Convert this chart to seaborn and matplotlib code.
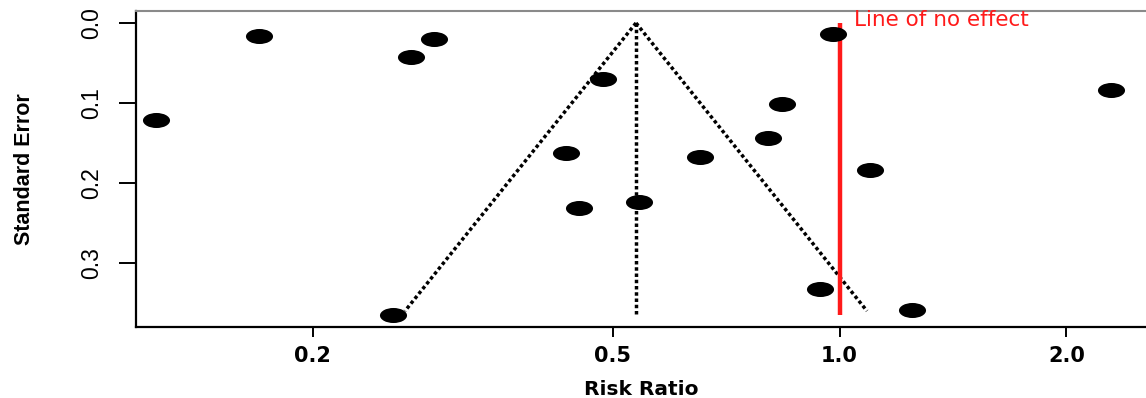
import numpy as np
import pandas as pd
import matplotlib
matplotlib.use("Agg")
import matplotlib.pyplot as plt
import seaborn as sns
from matplotlib.path import Path
from matplotlib.transforms import Affine2D
from matplotlib.ticker import FixedLocator, FixedFormatter, NullLocator

# Study-level estimates: risk ratio and standard error of log(RR)
risk_ratio = [0.124, 0.170, 0.270, 0.290, 0.485, 0.434, 0.451, 0.542, 0.653,
              0.840, 0.804, 0.979, 1.096, 2.288, 0.943, 1.247, 0.256]
std_error = [0.121, 0.016, 0.043, 0.020, 0.070, 0.163, 0.231, 0.224, 0.168,
             0.101, 0.144, 0.014, 0.184, 0.084, 0.333, 0.359, 0.365]

# Pooled estimate and funnel extent
pooled_rr = 0.537
funnel_se_max = 0.36
no_effect_rr = 1.0
no_effect_se_span = [0.0, 0.365]

x_ticks = [0.2, 0.5, 1.0, 2.0]
x_tick_labels = ["0.2", "0.5", "1.0", "2.0"]
y_ticks = [0.0, 0.1, 0.2, 0.3]
y_tick_labels = ["0.0", "0.1", "0.2", "0.3"]

df = pd.DataFrame({"rr": risk_ratio, "se": std_error})

sns.set_theme(style="white", rc={"text.color": "black",
                                 "axes.labelcolor": "black",
                                 "xtick.color": "black",
                                 "ytick.color": "black"})
plt.rcParams["font.family"] = ["Liberation Sans", "DejaVu Sans"]

fig = plt.figure(figsize=(11.46, 3.98), dpi=100)
ax = fig.add_axes([136 / 1146, 1 - 327 / 398, 1 - 136 / 1146, (327 - 11) / 398])

# 95% pseudo-confidence funnel around the pooled estimate
se_line = np.array([0.0, funnel_se_max])
z = 1.96
lower = np.exp(np.log(pooled_rr) - z * se_line)
upper = np.exp(np.log(pooled_rr) + z * se_line)
dot = (0, (1, 0.8))
ax.plot(lower, se_line, color="black", lw=2.5, ls=dot, zorder=2)
ax.plot(upper, se_line, color="black", lw=2.5, ls=dot, zorder=2)
ax.plot([pooled_rr, pooled_rr], [0.0, no_effect_se_span[1]], color="black",
        lw=2.5, ls=dot, zorder=2)

# Line of no effect
ax.plot([no_effect_rr, no_effect_rr], no_effect_se_span, color="#ff1a1a",
        lw=3.2, zorder=2, solid_capstyle="butt")
ax.text(1.045, -0.004, "Line of no effect", color="#ff1a1a", fontsize=15.5,
        ha="left", va="center", family=["DejaVu Sans"])

# Study points drawn as wide ellipses
ellipse = Path.unit_circle().transformed(Affine2D().scale(1.0, 15 / 27))
sns.scatterplot(data=df, x="rr", y="se", ax=ax, marker=ellipse, s=380,
                color="black", edgecolor="black", linewidth=0, zorder=3,
                legend=False)

ax.set_xscale("log")
ax.set_xlim(0.1166, 2.55)
ax.set_ylim(0.38, -0.015)

ax.xaxis.set_major_locator(FixedLocator(x_ticks))
ax.xaxis.set_major_formatter(FixedFormatter(x_tick_labels))
ax.xaxis.set_minor_locator(NullLocator())
ax.yaxis.set_major_locator(FixedLocator(y_ticks))
ax.yaxis.set_major_formatter(FixedFormatter(y_tick_labels))

ax.tick_params(axis="x", bottom=True, length=7, width=1.4, color="black",
               pad=7, labelsize=15, direction="out", labelcolor="black")
ax.tick_params(axis="y", left=True, length=12, width=1.4, color="black",
               pad=12, labelsize=16.5, labelrotation=90, direction="out",
               labelcolor="black")
for lab in ax.get_xticklabels():
    lab.set_fontweight("bold")
    lab.set_family(["DejaVu Sans"])
for lab in ax.get_yticklabels():
    lab.set_va("center")

ax.set_xlabel("Risk Ratio", fontsize=14.5, fontweight="bold",
              family=["DejaVu Sans"], labelpad=10, color="black")
ax.set_ylabel("Standard Error", fontsize=15.5, fontweight="bold",
              labelpad=32, color="black")

for side in ["left", "bottom"]:
    ax.spines[side].set_color("black")
    ax.spines[side].set_linewidth(1.6)
ax.spines["top"].set_color("#8a8a8a")
ax.spines["top"].set_linewidth(1.5)
ax.spines["right"].set_visible(False)

fig.savefig("out.png", dpi=100)
